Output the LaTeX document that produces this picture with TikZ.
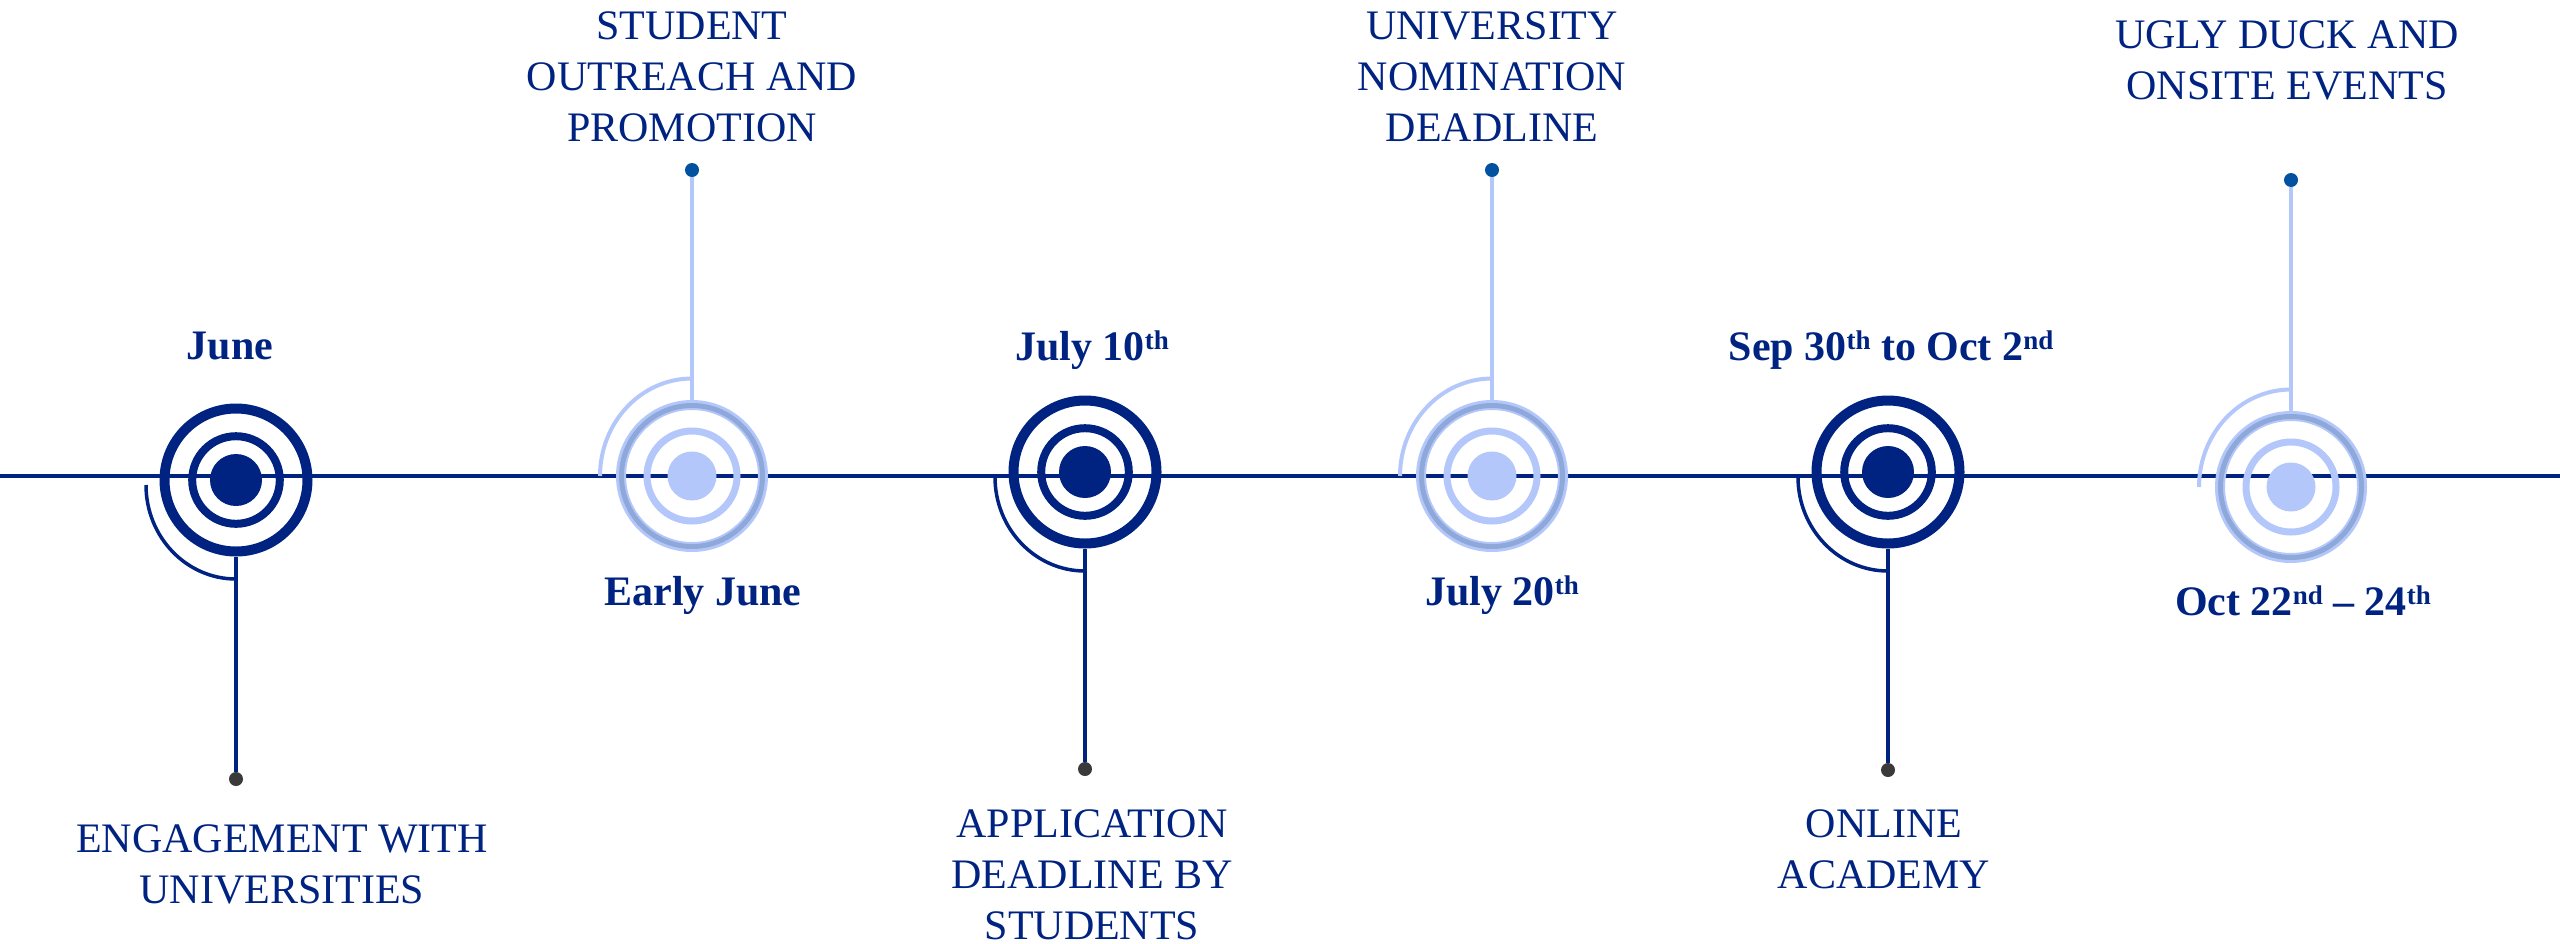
\documentclass[tikz,border=0pt]{standalone}
\usepackage{fontspec}
\setmainfont{Liberation Serif}
\definecolor{navy}{RGB}{0,35,130}
\definecolor{lblue}{RGB}{180,199,250}
\definecolor{mblue}{RGB}{142,168,218}
\definecolor{dotblue}{RGB}{0,82,160}
\definecolor{dotgrey}{RGB}{58,58,58}
\newcommand{\mlines}[1]{\begin{tabular}[t]{@{}c@{}}#1\end{tabular}}
\newcommand{\sups}[1]{\raisebox{5.5pt}{\fontsize{13.5}{13.5}\selectfont #1}}
\tikzset{
  darkouter/.style={circle, draw=navy, line width=5pt, minimum size=71.5pt, inner sep=0pt},
  darkmid/.style={circle, draw=navy, line width=4pt, minimum size=43.8pt, inner sep=0pt},
  darkcore/.style={circle, fill=navy, minimum size=26pt, inner sep=0pt},
  lightouter/.style={circle, draw=lblue, line width=5pt, minimum size=71pt, inner sep=0pt},
  lightband/.style={circle, draw=mblue, line width=2.5pt, minimum size=70.5pt, inner sep=0pt},
  lightmid/.style={circle, draw=lblue, line width=3.5pt, minimum size=45pt, inner sep=0pt},
  lightcore/.style={circle, fill=lblue, minimum size=24.5pt, inner sep=0pt},
  darkstem/.style={draw=navy, line width=2pt},
  lightstem/.style={draw=lblue, line width=2pt},
  darkarc/.style={draw=navy, line width=1.75pt},
  lightarc/.style={draw=lblue, line width=2pt},
  botdot/.style={circle, fill=dotgrey, minimum size=7pt, inner sep=0pt},
  topdot/.style={circle, fill=dotblue, minimum size=7pt, inner sep=0pt},
  lbl/.style={text=navy, font=\fontsize{21}{25.5}\selectfont, inner sep=0pt, anchor=base},
  datelbl/.style={text=navy, font=\bfseries\fontsize{21}{25.5}\selectfont, inner sep=0pt, anchor=base},
  axis/.style={draw=navy, line width=2pt}
}
\begin{document}
\begin{tikzpicture}[x=0.5pt,y=-0.5pt]
\useasboundingbox (0,0) rectangle (2560,943);
% axis
\coordinate (L) at (0,476);
\coordinate (R) at (2560,476);
\draw[axis] (L) -- (R);

% ---------- marker 1 (dark) ----------
\coordinate (m1) at (236,480);
\draw[darkarc] ([yshift=-2.5pt]m1) ++(-45pt,0) arc[start angle=180, end angle=270, x radius=45pt, y radius=47pt];
\node[darkouter] (o1) at (m1) {};
\node[darkmid] (i1) at (m1) {};
\node[darkcore] (c1) at (m1) {};
\node[botdot] (d1) at (236,779) {};
\draw[darkstem] (o1.south) -- (d1);

% ---------- marker 2 (light) ----------
\coordinate (m2) at (692,476);
\draw[lightarc] (m2) ++(-46pt,0) arc[start angle=180, end angle=90, x radius=46pt, y radius=48.75pt];
\node[lightouter] (o2) at (m2) {};
\node[lightband] (b2) at (m2) {};
\node[lightmid] (i2) at (m2) {};
\node[lightcore] (c2) at (m2) {};
\node[topdot] (d2) at (692,170) {};
\draw[lightstem] (o2.north) -- (d2);

% ---------- marker 3 (dark) ----------
\coordinate (m3) at (1085,472);
\draw[darkarc] ([yshift=-2.5pt]m3) ++(-45pt,0) arc[start angle=180, end angle=270, x radius=45pt, y radius=47pt];
\node[darkouter] (o3) at (m3) {};
\node[darkmid] (i3) at (m3) {};
\node[darkcore] (c3) at (m3) {};
\node[botdot] (d3) at (1085,769) {};
\draw[darkstem] (o3.south) -- (d3);

% ---------- marker 4 (light) ----------
\coordinate (m4) at (1492,476);
\draw[lightarc] (m4) ++(-46pt,0) arc[start angle=180, end angle=90, x radius=46pt, y radius=48.75pt];
\node[lightouter] (o4) at (m4) {};
\node[lightband] (b4) at (m4) {};
\node[lightmid] (i4) at (m4) {};
\node[lightcore] (c4) at (m4) {};
\node[topdot] (d4) at (1492,170) {};
\draw[lightstem] (o4.north) -- (d4);

% ---------- marker 5 (dark) ----------
\coordinate (m5) at (1888,472);
\draw[darkarc] ([yshift=-2.5pt]m5) ++(-45pt,0) arc[start angle=180, end angle=270, x radius=45pt, y radius=47pt];
\node[darkouter] (o5) at (m5) {};
\node[darkmid] (i5) at (m5) {};
\node[darkcore] (c5) at (m5) {};
\node[botdot] (d5) at (1888,770) {};
\draw[darkstem] (o5.south) -- (d5);

% ---------- marker 6 (light) ----------
\coordinate (m6) at (2291,487);
\draw[lightarc] (m6) ++(-46pt,0) arc[start angle=180, end angle=90, x radius=46pt, y radius=48.75pt];
\node[lightouter] (o6) at (m6) {};
\node[lightband] (b6) at (m6) {};
\node[lightmid] (i6) at (m6) {};
\node[lightcore] (c6) at (m6) {};
\node[topdot] (d6) at (2291,180) {};
\draw[lightstem] (o6.north) -- (d6);

% ---------- dates ----------
\node[datelbl] (t1) at (230,359) {June};
\node[datelbl] (t2) at (703,605) {Early June};
\node[datelbl] (t3) at (1092,360) {July 10\sups{th}};
\node[datelbl] (t4) at (1502,605) {July 20\sups{th}};
\node[datelbl] (t5) at (1891,360) {Sep 30\sups{th} to Oct 2\sups{nd}};
\node[datelbl] (t6) at (2303,615) {Oct 22\sups{nd} – 24\sups{th}};

% ---------- descriptions ----------
\node[lbl] (e1) at (282,852) {\mlines{ENGAGEMENT WITH\\UNIVERSITIES}};
\node[lbl] (e2) at (692,39) {\mlines{STUDENT\\OUTREACH AND\\PROMOTION}};
\node[lbl] (e3) at (1092,837) {\mlines{APPLICATION\\DEADLINE BY\\STUDENTS}};
\node[lbl] (e4) at (1492,39) {\mlines{UNIVERSITY\\NOMINATION\\DEADLINE}};
\node[lbl] (e5) at (1884,837) {\mlines{ONLINE\\ACADEMY}};
\node[lbl] (e6) at (2287,48) {\mlines{UGLY DUCK AND\\ONSITE EVENTS}};
\end{tikzpicture}
\end{document}
